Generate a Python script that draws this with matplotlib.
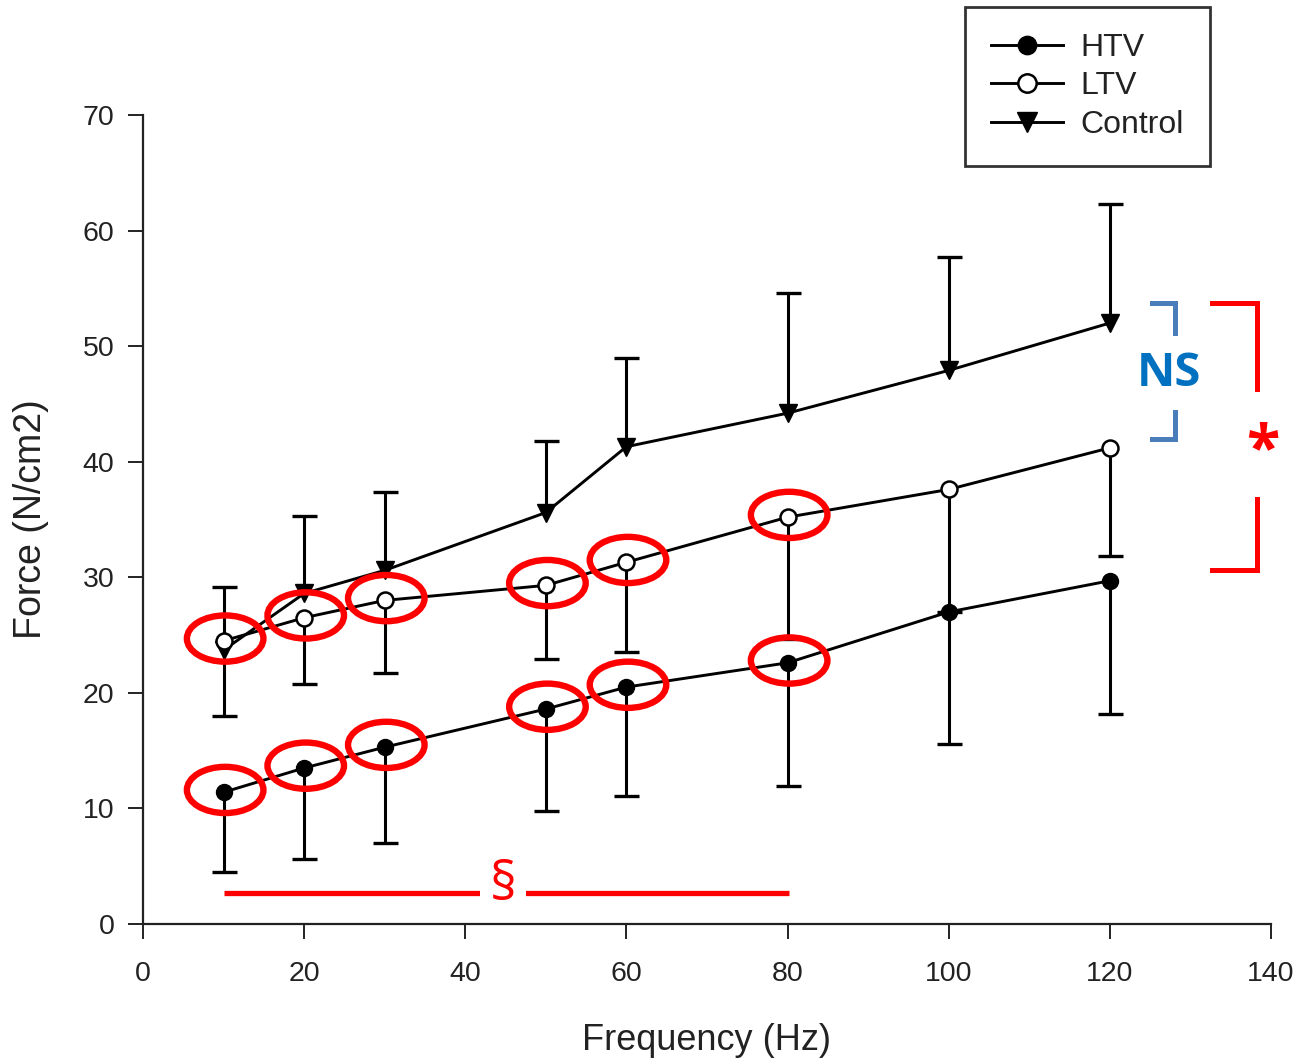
import matplotlib
matplotlib.use('Agg')
import matplotlib.pyplot as plt
from matplotlib.patches import Ellipse
import numpy as np

# ---------------- data ----------------
freq = [10, 20, 30, 50, 60, 80, 100, 120]
htv = [11.4, 13.5, 15.3, 18.6, 20.5, 22.6, 27.0, 29.7]
htv_low = [4.5, 5.6, 7.0, 9.8, 11.1, 11.9, 15.6, 18.2]
ltv = [24.5, 26.5, 28.0, 29.3, 31.3, 35.2, 37.6, 41.2]
ltv_low = [18.0, 20.8, 21.7, 22.9, 23.5, 24.7, 27.0, 31.8]
control = [23.7, 28.6, 30.6, 35.6, 41.3, 44.2, 47.9, 52.0]
control_high = [29.2, 35.3, 37.4, 41.8, 49.0, 54.6, 57.7, 62.3]
circled_freqs = [10, 20, 30, 50, 60, 80]
series_labels = ['HTV', 'LTV', 'Control']
x_ticks = [0, 20, 40, 60, 80, 100, 120, 140]
y_ticks = [0, 10, 20, 30, 40, 50, 60, 70]

plt.rcParams['font.family'] = ['Liberation Sans', 'DejaVu Sans']

fig = plt.figure(figsize=(13.01, 10.60), dpi=100)
ax = fig.add_axes([0.1099, 0.1283, 0.8670, 0.7632])

tick_col = '#222222'
err_kw = dict(fmt='none', ecolor='black', elinewidth=2.2, capsize=9, capthick=2.4, zorder=2)

f = np.array(freq)
h = np.array(htv); l = np.array(ltv); c = np.array(control)


def one_sided(y, err_low, err_high, keep):
    cont = ax.errorbar(f, y, yerr=[err_low, err_high], **err_kw)
    caps = cont.lines[1]
    # caps come as (lower, upper); hide the one at the zero-length side
    if keep == 'upper':
        caps[0].set_visible(False)
    else:
        caps[1].set_visible(False)


one_sided(c, np.zeros_like(c), np.array(control_high) - c, 'upper')
one_sided(l, l - np.array(ltv_low), np.zeros_like(l), 'lower')
one_sided(h, h - np.array(htv_low), np.zeros_like(h), 'lower')

line_kw = dict(color='black', linewidth=2.1)
ln_c, = ax.plot(f, c, marker='v', markersize=13, markerfacecolor='black', markeredgecolor='black',
                label=series_labels[2], zorder=3, **line_kw)
ln_l, = ax.plot(f, l, marker='o', markersize=11.5, markerfacecolor='white', markeredgecolor='black',
                markeredgewidth=1.8, label=series_labels[1], zorder=4, **line_kw)
ln_h, = ax.plot(f, h, marker='o', markersize=11.5, markerfacecolor='black', markeredgecolor='black',
                label=series_labels[0], zorder=4, **line_kw)

# red ellipses around selected points
for fr in circled_freqs:
    i = freq.index(fr)
    for yv in (htv[i], ltv[i]):
        ax.add_patch(Ellipse((fr + 0.2, yv + 0.2), width=9.5, height=4.0, fill=False,
                             edgecolor='#FF0000', linewidth=4.6, zorder=6))

ax.set_xlim(0, 140)
ax.set_ylim(0, 70)
ax.set_xticks(x_ticks)
ax.set_yticks(y_ticks)
for s in ['top', 'right']:
    ax.spines[s].set_visible(False)
for s in ['left', 'bottom']:
    ax.spines[s].set_linewidth(1.6)
    ax.spines[s].set_color('#222222')
ax.tick_params(axis='both', direction='out', length=10.5, width=1.4, colors='#222222',
               labelsize=20.5, labelcolor=tick_col)
ax.tick_params(axis='x', pad=16)
ax.tick_params(axis='y', pad=10)

ax.set_xlabel('Frequency (Hz)', fontsize=26, color=tick_col, labelpad=26)
ax.set_ylabel('Force (N/cm2)', fontsize=27, color=tick_col, labelpad=24)

# legend
leg = ax.legend(handles=[ln_h, ln_l, ln_c], labels=series_labels,
                loc='upper left', bbox_to_anchor=(0.7417, 0.9934), bbox_transform=fig.transFigure,
                borderaxespad=0, fontsize=23, frameon=True, fancybox=False, handlelength=2.25,
                handletextpad=0.55, labelspacing=0.26, borderpad=0.82, markerscale=1.15)
leg.get_frame().set_edgecolor('black')
leg.get_frame().set_linewidth(2.0)
for t in leg.get_texts():
    t.set_color(tick_col)

# section sign line
red = '#FF0000'
ax.plot([freq[0], 80.2], [2.7, 2.7], color=red, linewidth=3.8, solid_capstyle='butt', zorder=5)
ax.text(44.7, 3.3, '§', fontsize=38, color=red, ha='center', va='center', family='Open Sans',
        zorder=7, bbox=dict(facecolor='white', edgecolor='none', pad=7), clip_on=False)

# NS bracket (blue)
blue_br = '#4A7EBB'
ax.plot([125.2, 128.1, 128.1], [53.7, 53.7, 51.1], color=blue_br, linewidth=3.6,
        solid_joinstyle='miter', clip_on=False, zorder=5)
ax.plot([128.1, 128.1, 125.2], [44.3, 42.0, 42.0], color=blue_br, linewidth=3.6,
        solid_joinstyle='miter', clip_on=False, zorder=5)
ax.text(127.3, 47.6, 'NS', fontsize=34, color='#0070C0', fontweight='bold', family='Open Sans',
        ha='center', va='center', zorder=7)

# significance bracket (red)
ax.plot([132.7, 138.3, 138.3], [53.7, 53.7, 46.3], color=red, linewidth=3.6,
        solid_joinstyle='miter', clip_on=False, zorder=5)
ax.plot([138.3, 138.3, 132.7], [36.8, 30.6, 30.6], color=red, linewidth=3.6,
        solid_joinstyle='miter', clip_on=False, zorder=5)
ax.text(139.0, 40.9, '*', fontsize=44, color=red, fontweight='bold', family='Open Sans',
        ha='center', va='center', zorder=7, clip_on=False)

fig.savefig('out.png', dpi=100, facecolor='white')
